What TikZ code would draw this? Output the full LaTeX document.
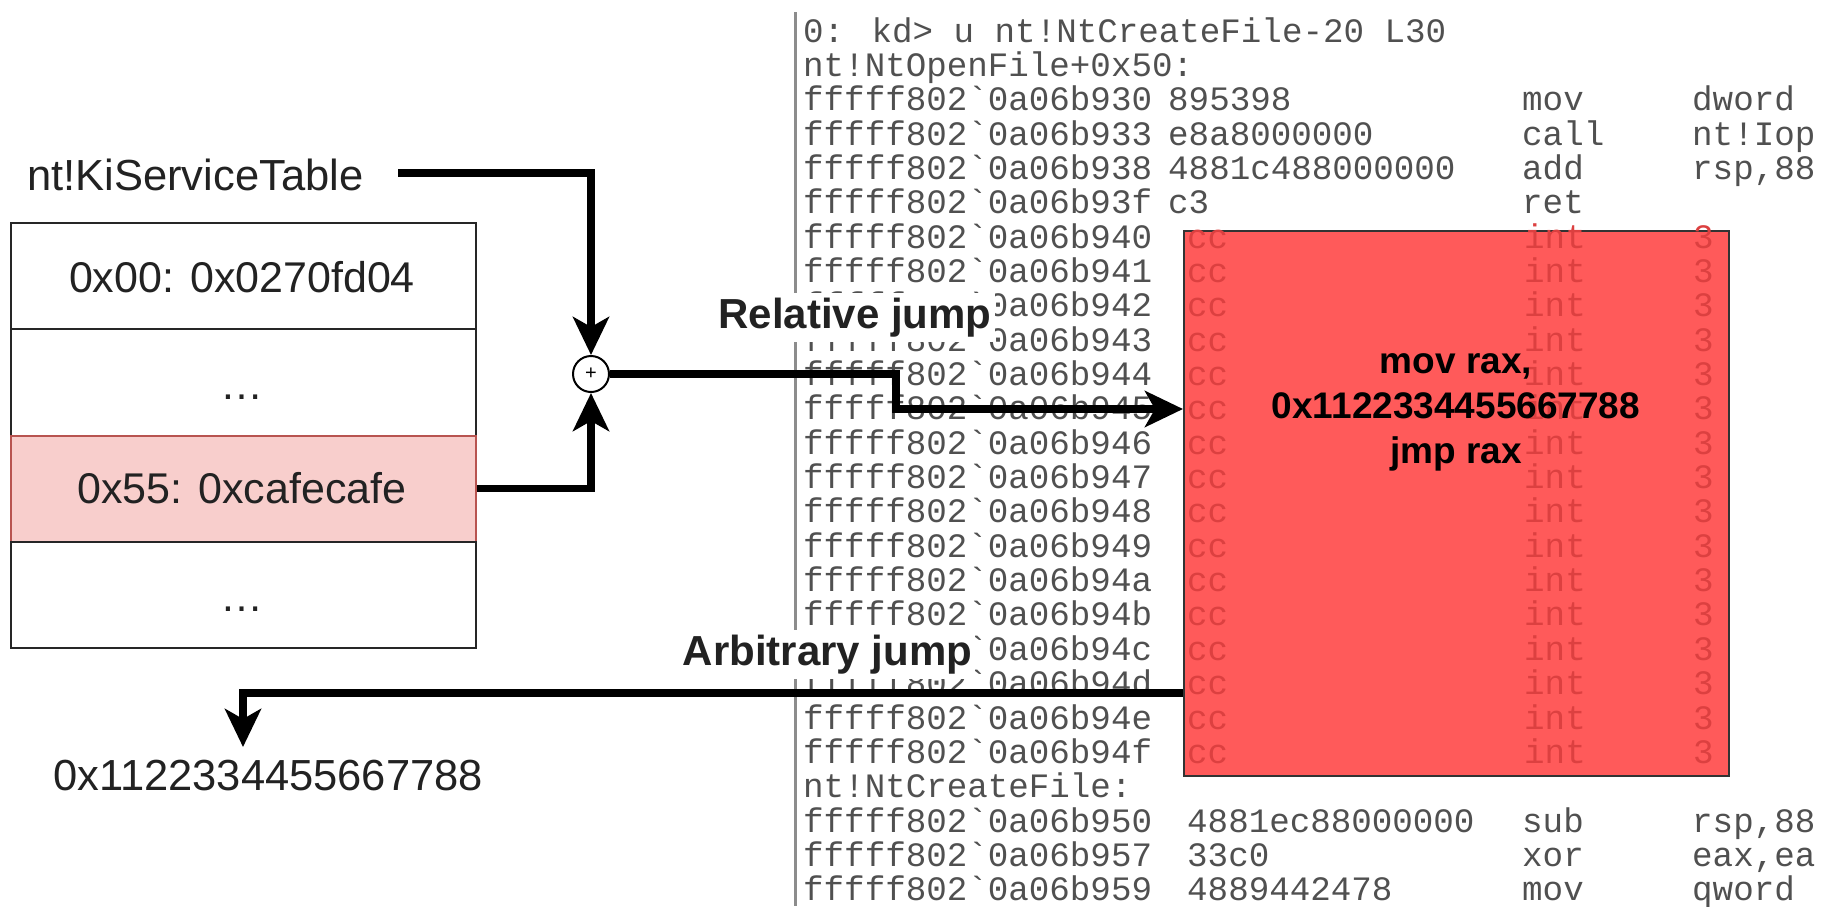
\documentclass[tikz,border=0pt]{standalone}
\usepackage{fontspec}
\setmainfont{Liberation Sans}
\newfontfamily\monof{Liberation Mono}[Ligatures=TeXOff]
\usetikzlibrary{arrows.meta}
\newcommand\bq{\symbol{96}}
\definecolor{scrtext}{HTML}{505050}
\definecolor{boxred}{HTML}{FF5A5A}
\definecolor{ccred}{HTML}{DC4040}
\definecolor{pinkfill}{HTML}{F8CECC}
\definecolor{pinkdraw}{HTML}{B85450}
\definecolor{bargray}{HTML}{8C8C8C}
\definecolor{txt}{HTML}{222222}
\begin{document}
\begin{tikzpicture}[x=1pt,y=-1pt,
  scr/.style={anchor=base west, inner sep=0pt, text=scrtext, font=\monof\fontsize{34.2}{34.4}\selectfont},
  scrred/.style={scr, text=ccred},
  row/.style={draw=black!85, line width=2pt, minimum width=465pt, minimum height=106.25pt, anchor=north west, inner sep=0pt},
  rowtxt/.style={anchor=base, inner sep=0pt, text=txt, font=\fontsize{43}{50}\selectfont},
  plaintxt/.style={anchor=base west, inner sep=0pt, text=txt},
  boxtxt/.style={anchor=base, inner sep=0pt, text=black, font=\bfseries\fontsize{37}{45}\selectfont},
  lbl/.style={anchor=base, fill=white, inner xsep=3pt, inner ysep=5pt, text=txt, font=\bfseries\fontsize{42}{50}\selectfont},
  conn/.style={line width=7.5pt, draw=black, -{Stealth[length=38pt,width=36pt,inset=10pt]}},
]
\useasboundingbox (0,0) rectangle (1821,906);
\fill[white] (0,0) rectangle (1821,906);

% screenshot
\fill[bargray] (793.5,12) rectangle (796.5,906);
\node[scr] (l0) at (803,42) {0: kd> u nt!NtCreateFile-20 L30};
\node[scr] (l1) at (803,76.35) {nt!NtOpenFile+0x50:};

\node[scr] (a2) at (803,110.7) {fffff802\bq{}0a06b930};
\node[scr] (b2) at (1168,110.7) {895398};
\node[scr] (m2) at (1522,110.7) {mov};
\node[scr] (o2) at (1692,110.7) {dword};

\node[scr] (a3) at (803,145.05) {fffff802\bq{}0a06b933};
\node[scr] (b3) at (1168,145.05) {e8a8000000};
\node[scr] (m3) at (1522,145.05) {call};
\node[scr] (o3) at (1692,145.05) {nt!Iop};

\node[scr] (a4) at (803,179.4) {fffff802\bq{}0a06b938};
\node[scr] (b4) at (1168,179.4) {4881c488000000};
\node[scr] (m4) at (1522,179.4) {add};
\node[scr] (o4) at (1692,179.4) {rsp,88};

\node[scr] (a5) at (803,213.75) {fffff802\bq{}0a06b93f};
\node[scr] (b5) at (1168,213.75) {c3};
\node[scr] (m5) at (1522,213.75) {ret};

\foreach \h [count=\k from 6] in {0,1,2,3,4,5,6,7,8,9,a,b,c,d,e,f}{
  \node[scr] (addr\k) at (803,{42+34.35*\k}) {fffff802\bq{}0a06b94\h};
}

\node[scr] (l22) at (803,797.7) {nt!NtCreateFile:};

\node[scr] (a23) at (803,832.05) {fffff802\bq{}0a06b950};
\node[scr] (b23) at (1187,832.05) {4881ec88000000};
\node[scr] (m23) at (1522,832.05) {sub};
\node[scr] (o23) at (1692,832.05) {rsp,88};

\node[scr] (a24) at (803,866.4) {fffff802\bq{}0a06b957};
\node[scr] (b24) at (1187,866.4) {33c0};
\node[scr] (m24) at (1522,866.4) {xor};
\node[scr] (o24) at (1692,866.4) {eax,ea};

\node[scr] (a25) at (803,900.75) {fffff802\bq{}0a06b959};
\node[scr] (b25) at (1187,900.75) {4889442478};
\node[scr] (m25) at (1522,900.75) {mov};
\node[scr] (o25) at (1692,900.75) {qword};

% red overlay box
\node[draw=black!80, line width=2pt, fill=boxred, minimum width=545pt, minimum height=545pt, anchor=north west, inner sep=0pt] (rb) at (1183,230) {};
\foreach \k in {6,...,21}{
  \node[scrred] (cc\k) at (1187,{42+34.35*\k}) {cc};
  \node[scrred] (int\k) at (1524,{42+34.35*\k}) {int};
  \node[scrred] (three\k) at (1693,{42+34.35*\k}) {3};
}
\node[boxtxt] (bx1) at (1456,373) {mov rax,};
\node[boxtxt] (bx2) at (1456,418) {0x1122334455667788};
\node[boxtxt] (bx3) at (1456,463) {jmp rax};

% service table
\node[plaintxt, font=\fontsize{43.5}{50}\selectfont] (kst) at (27,190) {nt!KiServiceTable};
\node[row] (r0) at (10,222) {};
\node[row] (r1) at (10,328.25) {};
\node[row, fill=pinkfill, draw=pinkdraw] (r2) at (10,434.5) {};
\node[row] (r3) at (10,540.75) {};
\node[rowtxt] (t0) at (242,292) {0x00: 0x0270fd04};
\node[rowtxt] (t1) at (242,399) {…};
\node[rowtxt] (t2) at (242,503) {0x55: 0xcafecafe};
\node[rowtxt] (t3) at (242,611) {…};

\node[plaintxt, font=\fontsize{43.5}{50}\selectfont] (dest) at (53,790) {0x1122334455667788};

% adder
\node[circle, draw=black, line width=2pt, minimum size=36pt, inner sep=0pt, fill=white, font=\fontsize{20}{20}\selectfont] (circ) at (591,374) {+};

% connectors
\coordinate (kstout) at (398,173);
\coordinate (relknee) at (896,409);
\coordinate (arbY) at (0,693);
\coordinate (arbend) at (243,747);
\draw[conn] (kstout) -| (circ.north);
\draw[conn] (r2.east) -| (circ.south);
\draw[conn] (circ.east) -| (relknee) -- (relknee -| rb.west);
\draw[conn] (rb.west |- arbY) -| (arbend);

% labels
\node[lbl] (rel) at (855,328) {Relative jump};
\node[lbl] (arb) at (827.5,665) {Arbitrary jump};
\end{tikzpicture}
\end{document}
